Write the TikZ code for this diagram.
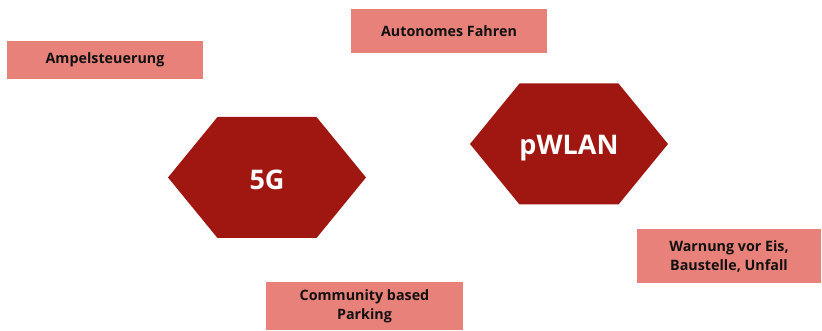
\documentclass[tikz,border=0pt]{standalone}
\usepackage{fontspec}
\setmainfont{Open Sans}
\usepackage{tikz}
\usetikzlibrary{positioning}

\definecolor{hexred}{HTML}{A01711}
\definecolor{boxpink}{HTML}{E8817A}
\definecolor{boxtext}{HTML}{111111}

\begin{document}
\begin{tikzpicture}[x=1pt,y=-1pt,
	box/.style={rectangle,fill=boxpink,text=boxtext,align=center,
		inner sep=0pt,minimum width=196pt,font=\bfseries\fontsize{14.3}{19}\selectfont},
	hex label/.style={text=white,font=\bfseries\fontsize{27}{30}\selectfont}]
	
	\useasboundingbox (0,0) rectangle (822,331);
	
	% hexagons
	\coordinate (g) at (267,177.5);
	\coordinate (w) at (569,144);
	\foreach \c in {g,w}
	\fill[hexred] (\c) ++(-99,0) -- ++(49.5,-60.5) -- ++(99,0) -- ++(49.5,60.5)
	-- ++(-49.5,60.5) -- ++(-99,0) -- cycle;
	\node[hex label,yshift=-2pt] (fiveg) at (g) {5G};
	\node[hex label,yshift=-4pt] (pwlan) at (w) {pWLAN};
	
	% use cases
	\node[box,minimum height=38pt] (ampel) at (105,60) {Ampelsteuerung};
	\node[box,minimum height=44pt] (auto) at (449,31) {Autonomes Fahren};
	\node[box,minimum width=184pt,minimum height=54pt] (warn) at (729,256)
	{Warnung vor Eis,\\Baustelle, Unfall};
	\node[box,minimum width=197pt,minimum height=48pt] (comm) at (364.5,306)
	{Community based\\Parking};
\end{tikzpicture}
\end{document}
